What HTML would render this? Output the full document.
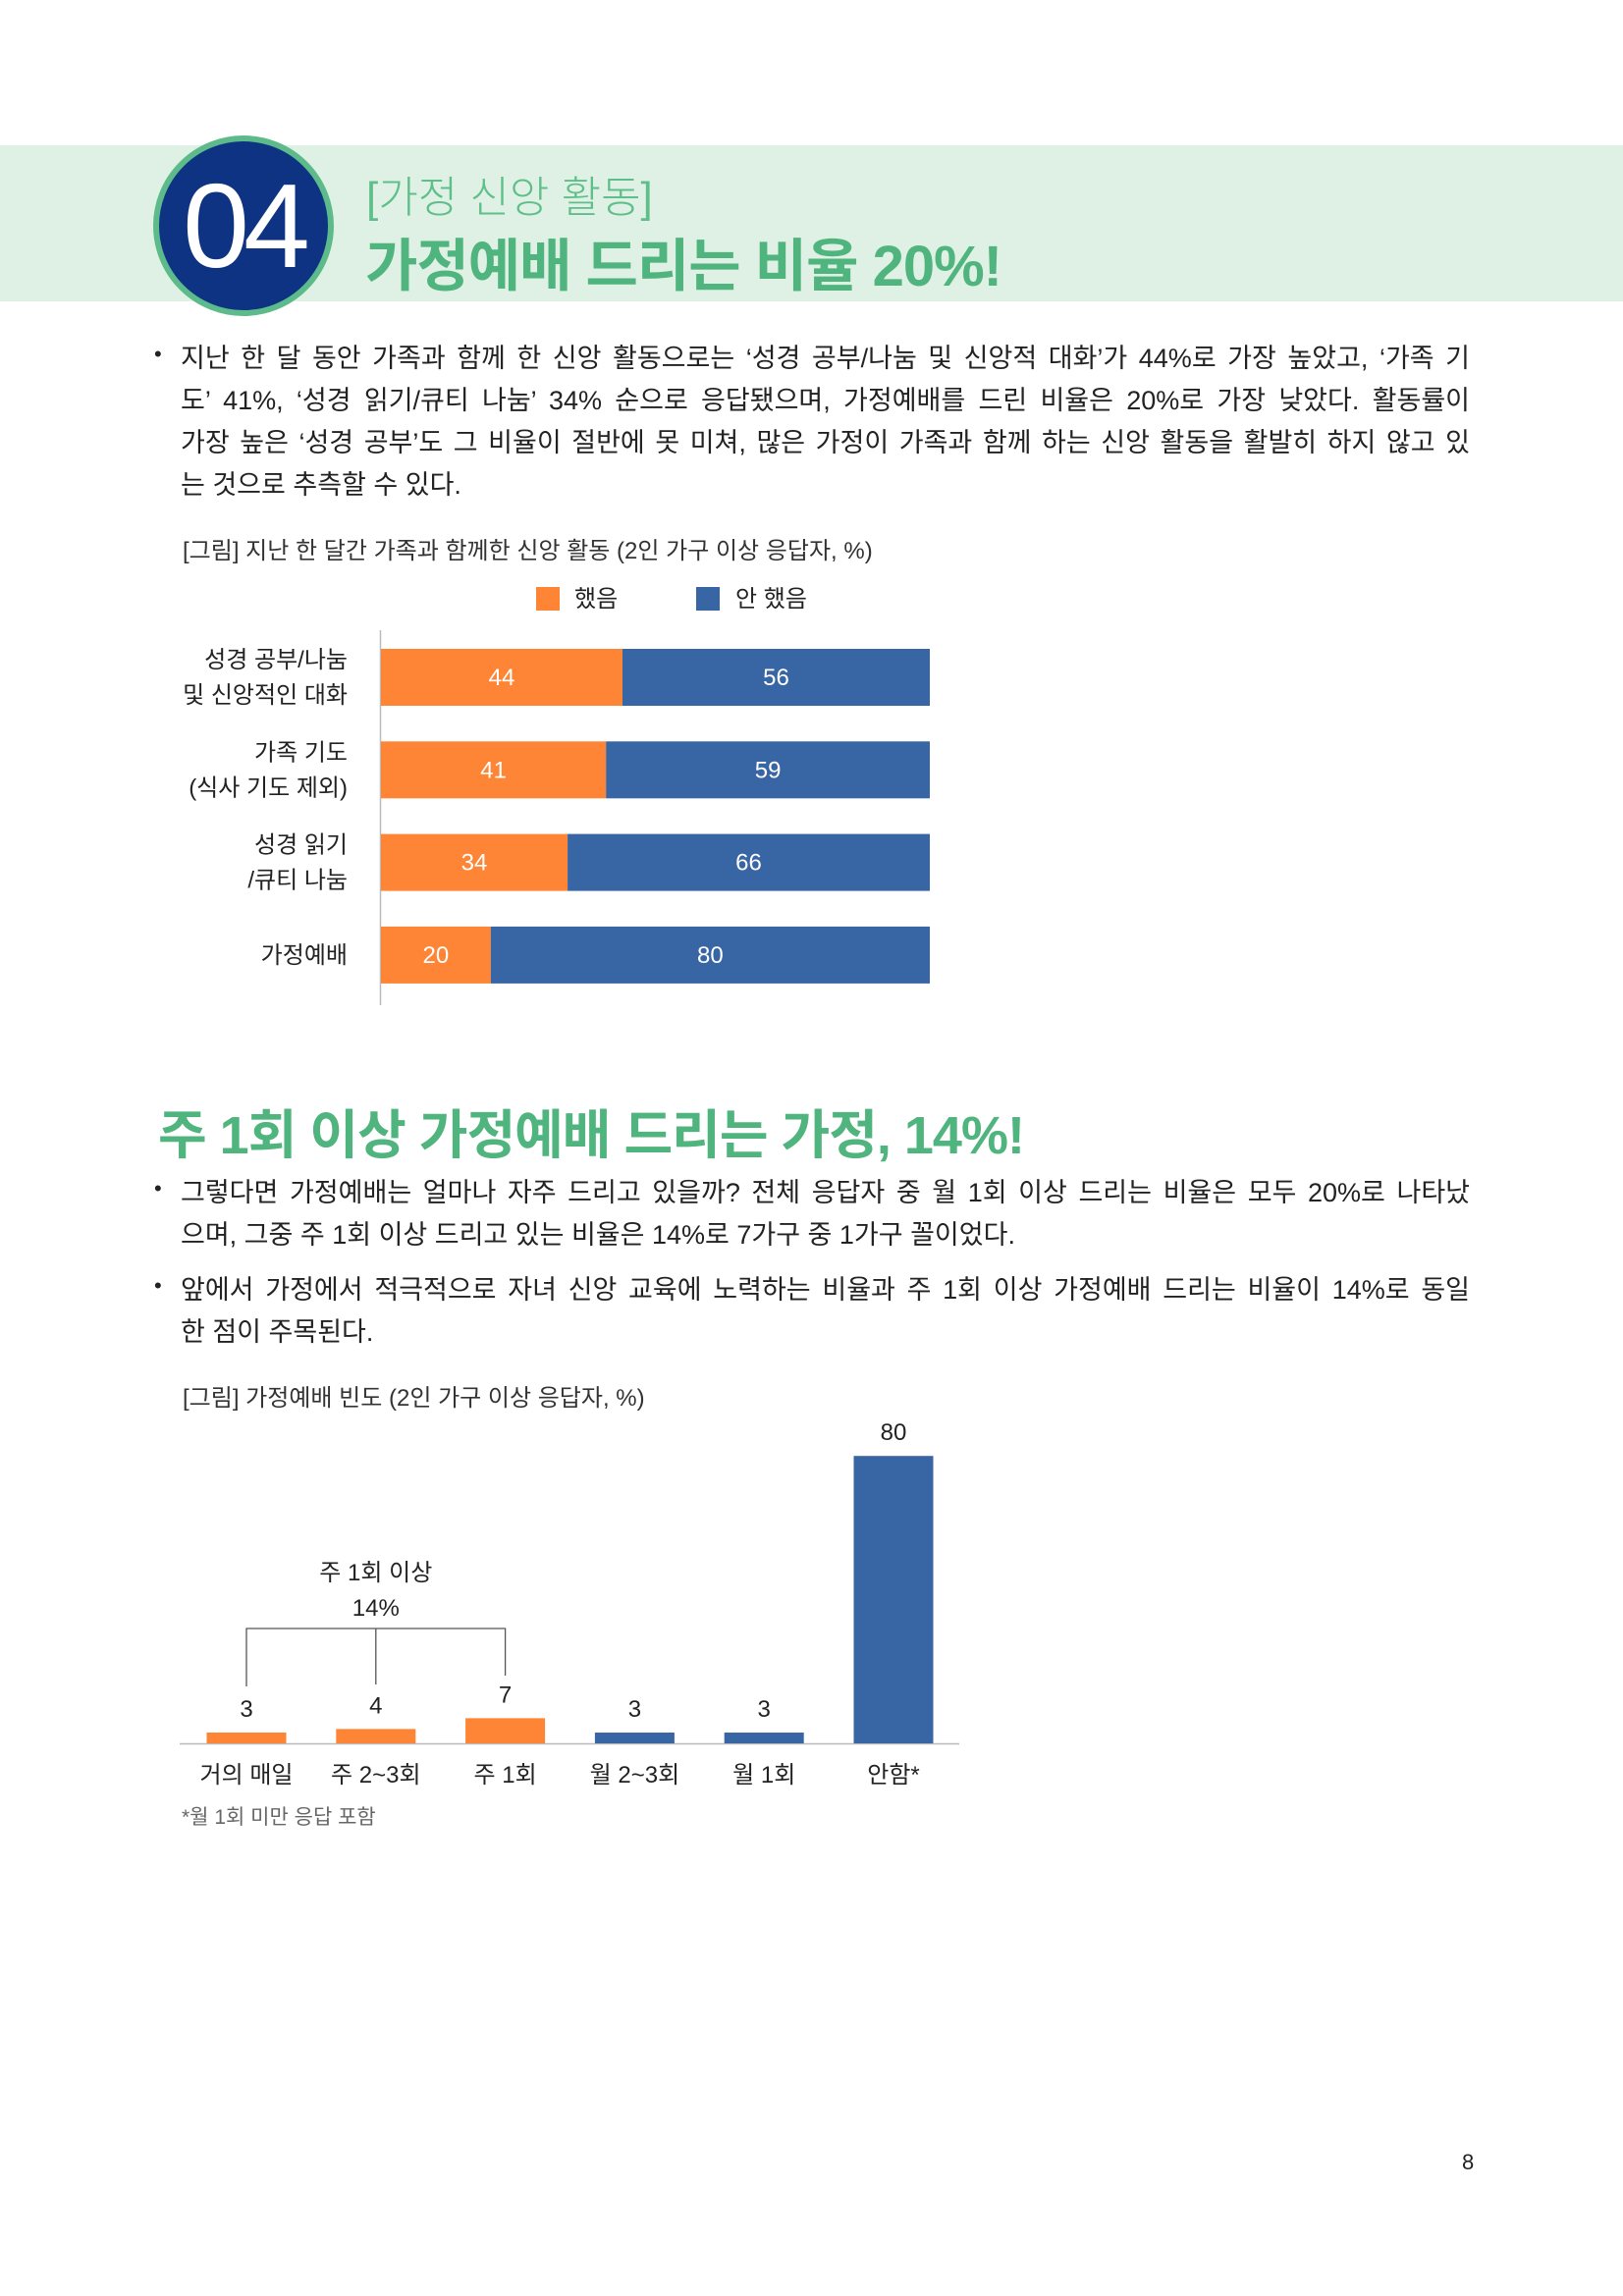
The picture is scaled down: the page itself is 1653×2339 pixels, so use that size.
<!DOCTYPE html>
<html><head><meta charset="utf-8"><style>
body{margin:0;width:1653px;height:2339px;background:#fff;position:relative;overflow:hidden;font-family:"Liberation Sans","Noto Sans CJK KR",sans-serif;color:#222}
.abs{position:absolute;white-space:nowrap}
.band{position:absolute;left:0;top:148px;width:1653px;height:159px;background:#dff0e4}
.circle{position:absolute;left:156px;top:138px;width:172px;height:172px;border-radius:50%;background:#0d3382;border:6px solid #5dbb8b;box-sizing:content-box}
.num{position:absolute;left:156px;top:138px;width:184px;height:184px;line-height:184px;text-align:center;color:#fff;font-size:122px;letter-spacing:-6px;font-family:"Liberation Sans",sans-serif}
.sub{left:373px;top:165px;font-size:44px;color:#5fbf8a;font-weight:300}
.title{left:372px;top:224px;font-size:58px;color:#4fb47d;font-weight:bold;letter-spacing:-1px}
.p{position:absolute;left:184px;width:1313px;font-size:27px;line-height:43px;color:#222}
.p div{text-align:justify;text-align-last:justify;white-space:nowrap}
.p div.last{text-align-last:left}
.bul{position:absolute;left:157px;font-size:22px}
.cap{font-size:24px;color:#333}
.h2{left:161px;top:1112px;font-size:54px;color:#4fb47d;font-weight:bold;letter-spacing:-1px}
</style></head><body>
<div class="band"></div>
<div class="circle"></div>
<div class="num">04</div>
<div class="abs sub">[가정 신앙 활동]</div>
<div class="abs title">가정예배 드리는 비율 20%!</div>

<div class="bul abs" style="top:348px">•</div>
<div class="p" style="top:344px">
<div>지난 한 달 동안 가족과 함께 한 신앙 활동으로는 ‘성경 공부/나눔 및 신앙적 대화’가 44%로 가장 높았고, ‘가족 기</div>
<div>도’ 41%, ‘성경 읽기/큐티 나눔’ 34% 순으로 응답됐으며, 가정예배를 드린 비율은 20%로 가장 낮았다. 활동률이</div>
<div>가장 높은 ‘성경 공부’도 그 비율이 절반에 못 미쳐, 많은 가정이 가족과 함께 하는 신앙 활동을 활발히 하지 않고 있</div>
<div class="last">는 것으로 추측할 수 있다.</div>
</div>
<div class="abs cap" style="left:186px;top:541px">[그림] 지난 한 달간 가족과 함께한 신앙 활동 (2인 가구 이상 응답자, %)</div>

<svg class="abs" style="left:0;top:580px" width="1000" height="460" id="c1"></svg>

<div class="abs h2">주 1회 이상 가정예배 드리는 가정, 14%!</div>
<div class="bul abs" style="top:1198px">•</div>
<div class="p" style="top:1194px">
<div>그렇다면 가정예배는 얼마나 자주 드리고 있을까? 전체 응답자 중 월 1회 이상 드리는 비율은 모두 20%로 나타났</div>
<div class="last">으며, 그중 주 1회 이상 드리고 있는 비율은 14%로 7가구 중 1가구 꼴이었다.</div>
</div>
<div class="bul abs" style="top:1297px">•</div>
<div class="p" style="top:1293px">
<div>앞에서 가정에서 적극적으로 자녀 신앙 교육에 노력하는 비율과 주 1회 이상 가정예배 드리는 비율이 14%로 동일</div>
<div class="last">한 점이 주목된다.</div>
</div>
<div class="abs cap" style="left:186px;top:1404px">[그림] 가정예배 빈도 (2인 가구 이상 응답자, %)</div>

<svg class="abs" style="left:0;top:1420px" width="1000" height="460" id="c2"></svg>

<div class="abs" style="left:1489px;top:2190px;font-size:22px">8</div>

<script>
const cats1=["성경 공부/나눔|및 신앙적인 대화","가족 기도|(식사 기도 제외)","성경 읽기|/큐티 나눔","가정예배"];
const did=[44,41,34,20];
const didNot=[56,59,66,80];
const cats2=["거의 매일","주 2~3회","주 1회","월 2~3회","월 1회","안함*"];
const vals2=[3,4,7,3,3,80];
const isWeekly=[true,true,true,false,false,false];
const NS="http://www.w3.org/2000/svg";
function mk(p,t,a){const e=document.createElementNS(NS,t);for(const k in a)e.setAttribute(k,a[k]);p.appendChild(e);return e;}
const OR="#fd8535",BL="#3865a3",FONT='"Liberation Sans","Noto Sans CJK KR",sans-serif';
// chart1 (svg top = 580)
const c1=document.getElementById('c1');
const x0=388,xw=559;const xs=v=>x0+v/100*xw;
const rowY=i=>81+i*94.3;const bh=58;
let e;
e=mk(c1,'rect',{x:546,y:18,width:24,height:24,fill:OR});


e=mk(c1,'text',{x:585,y:38,'font-size':24,'font-family':FONT,fill:'#222'});e.textContent='했음';


e=mk(c1,'rect',{x:709,y:18,width:24,height:24,fill:BL});


e=mk(c1,'text',{x:749,y:38,'font-size':24,'font-family':FONT,fill:'#222'});e.textContent='안 했음';


e=mk(c1,'line',{x1:387.5,x2:387.5,y1:62,y2:444,stroke:'#bbb','stroke-width':1.5});


cats1.forEach((c,i)=>{
 const y=rowY(i);
 e=mk(c1,'rect',{x:xs(0),y:y,width:xs(did[i])-xs(0),height:bh,fill:OR});
 
 
 e=mk(c1,'rect',{x:xs(did[i]),y:y,width:xs(did[i]+didNot[i])-xs(did[i]),height:bh,fill:BL});
 
 
 e=mk(c1,'text',{x:(xs(0)+xs(did[i]))/2,y:y+bh/2+8,'text-anchor':'middle','font-size':24,'font-family':FONT,fill:'#fff'});e.textContent=did[i];
 
 
 e=mk(c1,'text',{x:(xs(did[i])+xs(did[i]+didNot[i]))/2,y:y+bh/2+8,'text-anchor':'middle','font-size':24,'font-family':FONT,fill:'#fff'});e.textContent=didNot[i];
 
 
 const lines=c.split('|');
 lines.forEach((l,j)=>{
  const ty=y+bh/2+8+(j-(lines.length-1)/2)*36;
  e=mk(c1,'text',{x:354,y:ty,'text-anchor':'end','font-size':24,'font-family':FONT,fill:'#222'});e.textContent=l;
  
  
 });
});
// chart2 (svg top = 1420)
const c2=document.getElementById('c2');
const base=356,unit=3.66,bw=81;const cx=i=>251+i*131.8;const ys=v=>base-v*unit;
e=mk(c2,'line',{x1:183,x2:977,y1:base+0.5,y2:base+0.5,stroke:'#bbb','stroke-width':1.5});


cats2.forEach((c,i)=>{
 e=mk(c2,'rect',{x:cx(i)-bw/2,y:ys(vals2[i]),width:bw,height:base-ys(vals2[i]),fill:isWeekly[i]?OR:BL});
 
 
 e=mk(c2,'text',{x:cx(i),y:ys(vals2[i])-16,'text-anchor':'middle','font-size':24,'font-family':FONT,fill:'#222'});e.textContent=vals2[i];
 
 
 e=mk(c2,'text',{x:cx(i),y:396,'text-anchor':'middle','font-size':24,'font-family':FONT,fill:'#222'});e.textContent=c;
 
 
});
const bx1=cx(0),bx2=cx(2),bm=(bx1+bx2)/2;
e=mk(c2,'path',{d:`M${bx1} 298V239H${bx2}V287M${cx(1)} 239V296`,fill:'none',stroke:'#555','stroke-width':1.3});


e=mk(c2,'text',{x:bm,y:190,'text-anchor':'middle','font-size':24,'font-family':FONT,fill:'#222'});e.textContent='주 1회 이상';


e=mk(c2,'text',{x:bm,y:226,'text-anchor':'middle','font-size':24,'font-family':FONT,fill:'#222'});e.textContent='14%';


e=mk(c2,'text',{x:185,y:438,'font-size':21,'font-family':FONT,fill:'#666'});e.textContent='*월 1회 미만 응답 포함';


</script>
</body></html>
